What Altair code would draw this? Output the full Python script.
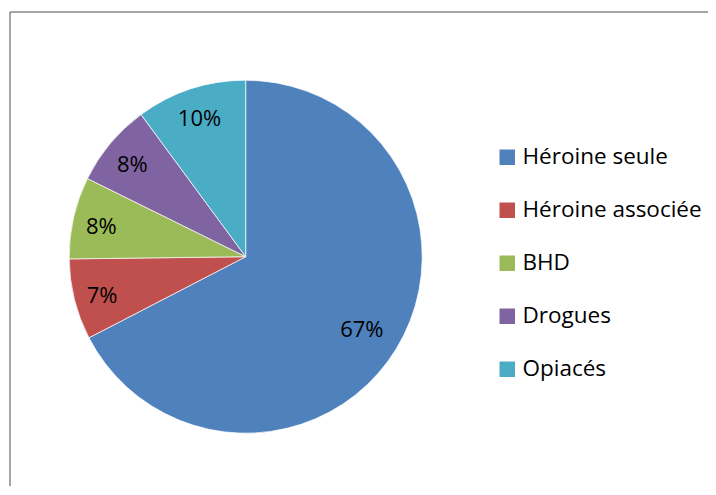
import altair as alt
import pandas as pd

categories = ["Héroine seule", "Héroine associée", "BHD", "Drogues", "Opiacés"]
values = [67.4, 7.4, 7.5, 7.6, 10.1]
labels = ["67%", "7%", "8%", "8%", "10%"]
colors = ["#4F81BD", "#C0504D", "#9BBB59", "#8064A2", "#4BACC6"]

df = pd.DataFrame({
    "category": categories,
    "value": values,
    "label": labels,
    "idx": list(range(len(categories))),
})

W, H = 700, 478
CX, CY = 237.7, 248.7
R = 176.5
FONT = "Open Sans"
BIG = categories[0]

base = alt.Chart(df).encode(
    theta=alt.Theta("value:Q", stack=True),
    order=alt.Order("idx:Q", sort="ascending"),
    x=alt.value(CX),
    y=alt.value(CY),
)

pie = base.mark_arc(radius=R, stroke="#ffffff", strokeWidth=0.7).encode(
    color=alt.Color(
        "category:N",
        scale=alt.Scale(domain=categories, range=colors),
        sort=categories,
        legend=alt.Legend(
            title=None,
            orient="none",
            legendX=488,
            legendY=138,
            symbolType="square",
            symbolSize=240,
            symbolStrokeWidth=0,
            labelFont=FONT,
            labelFontSize=22.5,
            labelColor="#000000",
            labelOffset=4,
            rowPadding=30,
            labelLimit=300,
        ),
    )
)

text_small = base.transform_calculate(
    t=f"datum.category == '{BIG}' ? '' : datum.label"
).mark_text(font=FONT, fontSize=22, color="#000000", align="center", baseline="middle",
            radius=148, dy=3).encode(
    text="t:N",
    detail="category:N",
)

text_big = base.transform_calculate(
    t=f"datum.category == '{BIG}' ? datum.label : ''"
).mark_text(font=FONT, fontSize=22, color="#000000", align="center", baseline="middle",
            radius=136, dy=3).encode(
    text="t:N",
    detail="category:N",
)

one = alt.Data(values=[{"a": 1}])
frame_v = alt.Chart(one).mark_rule(color="#878787", strokeWidth=1.5).encode(
    x=alt.value(2), y=alt.value(4), y2=alt.value(H)
)
frame_h = alt.Chart(one).mark_rule(color="#878787", strokeWidth=1.5).encode(
    x=alt.value(2), x2=alt.value(W), y=alt.value(4)
)

chart = alt.layer(pie, text_small, text_big, frame_v, frame_h).properties(
    width=W, height=H, padding=0, autosize=alt.AutoSizeParams(type="none")
).configure_view(stroke=None)

chart.save("out.html", embed_options={"renderer": "svg", "actions": False})
